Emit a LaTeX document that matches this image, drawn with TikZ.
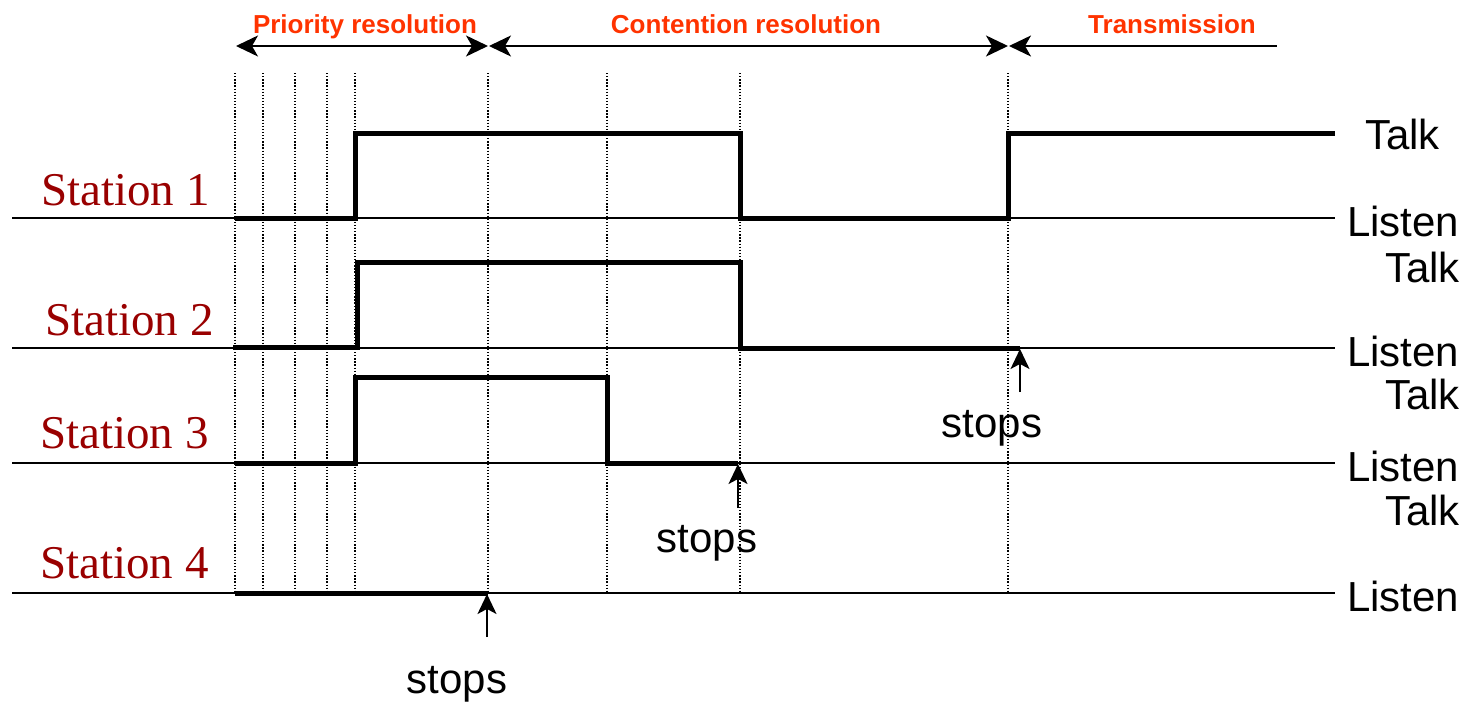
\documentclass[tikz,border=0pt]{standalone}
\usepackage{fontspec}
\setmainfont{Liberation Sans}
\newfontfamily\stationfont{Liberation Serif}
\usetikzlibrary{arrows.meta}
\definecolor{phasered}{RGB}{255,51,0}
\definecolor{stationred}{RGB}{153,0,0}

\begin{document}
\begin{tikzpicture}[x=1pt, y=-1pt, inner sep=0pt,
  level/.style={line width=5pt},
  axisline/.style={line width=1.8pt},
  slot/.style={line width=1.3pt, dash pattern=on 1.3pt off 1.8pt},
  bighead/.tip={Stealth[length=22pt, width=21pt, inset=6pt]},
  phase/.style={line width=2pt, bighead-bighead},
  phaseopen/.style={line width=2pt, bighead-},
  stoparrow/.style={line width=1.8pt, -{Stealth[length=20pt, width=19pt, inset=5pt]}},
  phaselabel/.style={anchor=base, text=phasered, font=\fontsize{26}{30}\selectfont\bfseries},
  stationlabel/.style={anchor=base west, text=stationred, font=\fontsize{47}{54}\stationfont},
  statelabel/.style={font=\fontsize{42}{48}\selectfont}]
\useasboundingbox (0,0) rectangle (1466,704);
\foreach \x in {235,263,295,327,355,488,607,740,1008}
  \draw[slot] (\x,73) -- (\x,593);
\foreach \y in {218,348,463,593}
  \draw[axisline] (12,\y) -- (1335,\y);
\draw[level] (235,218) -- (355,218) -- (355,133) -- (740,133) -- (740,218) -- (1008,218) -- (1008,133) -- (1335,133);
\draw[level] (233,347) -- (357,347) -- (357,262) -- (740,262) -- (740,348) -- (1020,348);
\draw[level] (235,463) -- (355,463) -- (355,377) -- (607,377) -- (607,463) -- (738,463);
\draw[level] (235,593) -- (488,593);
\coordinate (prioL) at (236,46);
\coordinate (prioR) at (488,46);
\coordinate (contL) at (489,46);
\coordinate (contR) at (1008,46);
\coordinate (transL) at (1009,46);
\coordinate (transR) at (1277,46);
\draw[phase] (prioL) -- (prioR);
\draw[phase] (contL) -- (contR);
\draw[phaseopen] (transL) -- (transR);
\node[phaselabel] (prio) at (365,33) {Priority resolution};
\node[phaselabel] (cont) at (746,33) {Contention resolution};
\node[phaselabel] (trans) at (1172,33) {Transmission};
\node[stationlabel] (stA) at (41,205) {Station 1};
\node[stationlabel] (stB) at (45,335) {Station 2};
\node[stationlabel] (stC) at (40,448) {Station 3};
\node[stationlabel] (stD) at (40,578) {Station 4};
\node[statelabel, anchor=base west] (talkA) at (1365,149) {Talk};
\node[statelabel, anchor=base west] (listenA) at (1347,236) {Listen};
\node[statelabel, anchor=base east] (talkB) at (1460,282) {Talk};
\node[statelabel, anchor=base west] (listenB) at (1347,366) {Listen};
\node[statelabel, anchor=base east] (talkC) at (1460,409) {Talk};
\node[statelabel, anchor=base west] (listenC) at (1347,481) {Listen};
\node[statelabel, anchor=base east] (talkD) at (1460,525) {Talk};
\node[statelabel, anchor=base west] (listenD) at (1347,611) {Listen};
\node[statelabel, anchor=base] (stopsB) at (992,437) {stops};
\node[statelabel, anchor=base] (stopsC) at (707,552) {stops};
\node[statelabel, anchor=base] (stopsD) at (457,693) {stops};
\coordinate (tailB) at (1020,392);
\coordinate (tipB) at (1020,349);
\coordinate (tailC) at (738,508);
\coordinate (tipC) at (738,464);
\coordinate (tailD) at (487,637);
\coordinate (tipD) at (487,594);
\draw[stoparrow] (tailB) -- (tipB);
\draw[stoparrow] (tailC) -- (tipC);
\draw[stoparrow] (tailD) -- (tipD);
\end{tikzpicture}
\end{document}
